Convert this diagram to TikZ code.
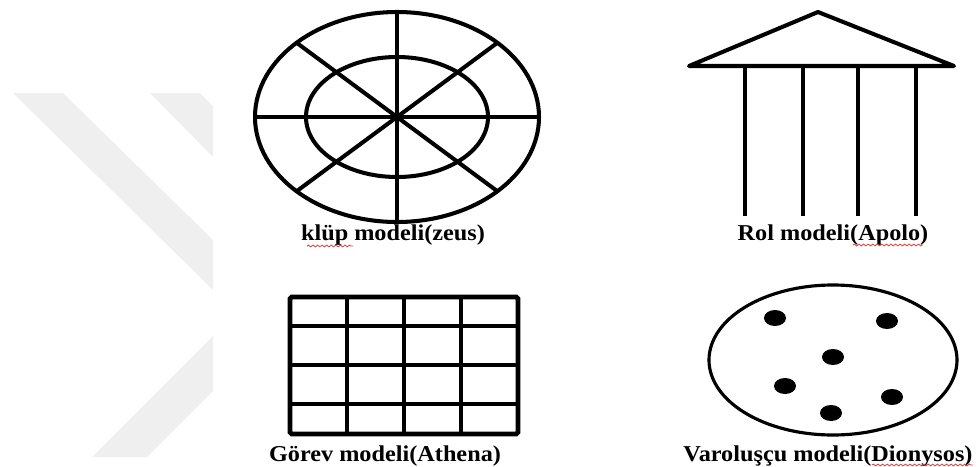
\documentclass[tikz,border=0pt]{standalone}
\usepackage{fontspec}
\setmainfont{Liberation Serif}
\usepackage{graphicx}
\usepackage{tikz}
\usetikzlibrary{decorations.pathmorphing}
\definecolor{markgray}{HTML}{EFEFEF}
\definecolor{spellred}{HTML}{E04848}
\newcommand{\widetext}[1]{\scalebox{1.07}[1]{#1}}

\begin{document}
\begin{tikzpicture}[x=0.02cm, y=-0.02cm,
    figline/.style={line width=2.3pt, black},
    gridline/.style={line width=2.8pt, black},
    dot/.style={fill=black},
    modelname/.style={anchor=base, inner sep=0pt, font=\fontsize{12.9}{14}\selectfont\bfseries},
    squiggle/.style={spellred, line width=0.5pt, decorate, decoration={snake, amplitude=0.5pt, segment length=2.6pt}}
]
    \useasboundingbox (0,0) rectangle (978,467);

    % Watermark
    \fill[markgray] (13,93) -- (63,93) -- (213,240) -- (213,290) -- cycle;
    \fill[markgray] (150,93) -- (200,93) -- (213,106) -- (213,157) -- cycle;
    \fill[markgray] (92,457) -- (147,457) -- (213,391) -- (213,336) -- cycle;

    % Club model (Zeus)
    \coordinate (zeus) at (397,117);
    \draw[figline] (zeus) ellipse [x radius=142, y radius=105];
    \draw[figline] (zeus) ellipse [x radius=91, y radius=60];
    \foreach \t in {0,45,...,315}
        \draw[figline] (zeus) -- ({397+142*cos(\t)},{117+105*sin(\t)});

    % Role model (Apolo)
    \coordinate (apex) at (818,12);
    \coordinate (eaveL) at (689,66);
    \coordinate (eaveR) at (954,66);
    \draw[figline, line join=round] (eaveL) -- (apex) -- (eaveR) -- cycle;
    \foreach \x in {745,803,858,916}
        \draw[figline] (\x,66) -- (\x,216);

    % Task model (Athena)
    \draw[gridline, rounded corners=1pt] (290,297) rectangle (518,434);
    \foreach \x in {347,404,461}
        \draw[gridline] (\x,297) -- (\x,434);
    \foreach \y in {326,365,404}
        \draw[gridline] (290,\y) -- (518,\y);

    % Existential model (Dionysos)
    \coordinate (dion) at (833,360);
    \draw[line width=1.8pt] (dion) ellipse [x radius=124, y radius=75];
    \foreach \p in {(775,318),(887,321),(833,357),(785,386),(892,397),(831,413)}
        \fill[dot] \p ellipse [x radius=11, y radius=8];

    % Nodes
    \node[modelname] (zeustext) at (393,240) {\widetext{klüp modeli(zeus)}};
    \node[modelname] (apolotext) at (833,240) {\widetext{Rol modeli(Apolo)}};
    \node[modelname] (athenatext) at (385,461) {\widetext{Görev modeli(Athena)}};
    \node[modelname] (dionytext) at (828,461) {\widetext{Varoluşçu modeli(Dionysos)}};

    % Spelling marks
    \draw[squiggle] (307,246) -- (353,246);
    \draw[squiggle] (853,245) -- (923,245);
    \draw[squiggle] (872,465) -- (973,465);
\end{tikzpicture}
\end{document}
